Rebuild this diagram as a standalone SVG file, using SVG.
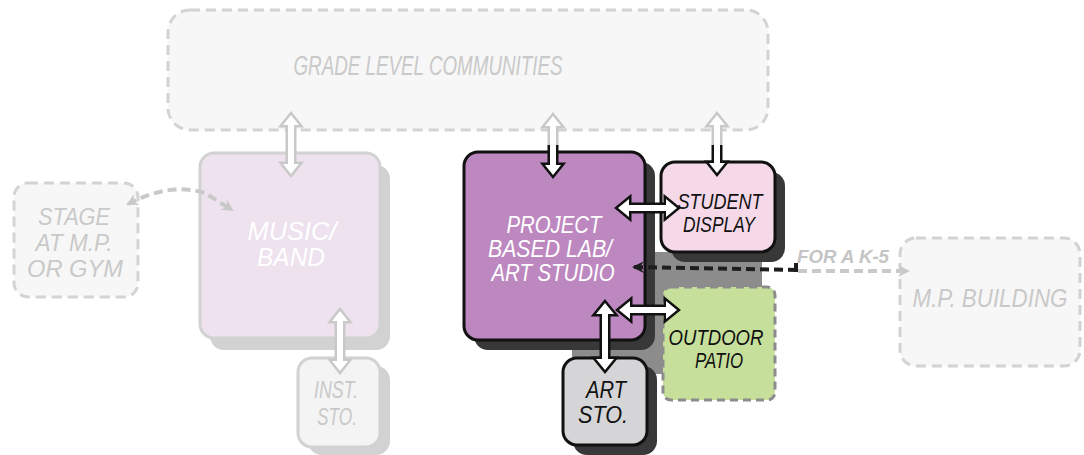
<svg xmlns="http://www.w3.org/2000/svg" width="1084" height="455" viewBox="0 0 1084 455">
<defs>
<style>
.ghost{fill:#f7f7f7;stroke:#d3d3d3;stroke-width:3;stroke-dasharray:10 6}
.gt{font-family:"Liberation Sans",Arial,sans-serif;font-style:italic;fill:#c9c9c9;text-anchor:middle}
.wt{font-family:"Liberation Sans",Arial,sans-serif;font-style:italic;fill:#ffffff;text-anchor:middle}
.bt{font-family:"Liberation Sans",Arial,sans-serif;font-style:italic;fill:#111111;text-anchor:middle}
.arw{fill:#ffffff;stroke:#111111;stroke-width:5;paint-order:stroke;stroke-linejoin:miter}
.arwg{fill:#ffffff;stroke:#c9c9c9;stroke-width:5;paint-order:stroke;stroke-linejoin:miter}
.dashb{fill:none;stroke:#1e1e1e;stroke-width:4;stroke-dasharray:9 5}
.dashg{fill:none;stroke:#c9c9c9;stroke-width:4;stroke-dasharray:9 5}
</style>
<marker id="hb" viewBox="0 0 12 12" refX="10" refY="6" markerWidth="12" markerHeight="12" markerUnits="userSpaceOnUse" orient="auto-start-reverse">
<path d="M0,0 L12,6 L0,12 L4,6 Z" fill="#1e1e1e"/>
</marker>
<marker id="hg" viewBox="0 0 12 12" refX="10" refY="6" markerWidth="12" markerHeight="12" markerUnits="userSpaceOnUse" orient="auto-start-reverse">
<path d="M0,0 L12,6 L0,12 L4,6 Z" fill="#c9c9c9"/>
</marker>
<clipPath id="above"><rect x="0" y="0" width="1084" height="145"/></clipPath>
<clipPath id="below"><rect x="0" y="145" width="1084" height="310"/></clipPath>
</defs>

<rect width="1084" height="455" fill="#ffffff"/>

<g id="grade-level-communities">
<rect class="ghost" x="168" y="10" width="600" height="120" rx="22"/>
<text class="gt" x="428" y="75" font-size="27" textLength="269" lengthAdjust="spacingAndGlyphs">GRADE LEVEL COMMUNITIES</text>
</g>

<g id="stage">
<rect class="ghost" x="14" y="183" width="124" height="114" rx="14"/>
<text class="gt" x="74" y="225" font-size="23" textLength="72" lengthAdjust="spacingAndGlyphs">STAGE</text>
<text class="gt" x="74" y="251" font-size="23" textLength="77" lengthAdjust="spacingAndGlyphs">AT M.P.</text>
<text class="gt" x="75" y="277" font-size="23" textLength="96" lengthAdjust="spacingAndGlyphs">OR GYM</text>
</g>

<g id="mp-building">
<rect class="ghost" x="900" y="238" width="180" height="128" rx="16"/>
<text class="gt" x="990" y="307" font-size="25" textLength="155" lengthAdjust="spacingAndGlyphs">M.P. BUILDING</text>
</g>

<g id="shared-shadow">
<path d="M645,252 H762 V290 H668 V374 H572 V345 H645 Z" fill="#8c8c8c"/>
</g>

<g id="music-band">
<rect x="210" y="165" width="180" height="185" rx="14" fill="#d2d2d2"/>
<rect x="200" y="153" width="180" height="185" rx="14" fill="#eee2ef" stroke="#d2d2d2" stroke-width="3"/>
<text class="wt" x="292" y="240" font-size="25" textLength="89" lengthAdjust="spacingAndGlyphs">MUSIC/</text>
<text class="wt" x="291" y="266" font-size="25" textLength="68" lengthAdjust="spacingAndGlyphs">BAND</text>
</g>

<g id="inst-sto">
<rect x="308" y="366" width="82" height="89" rx="14" fill="#d2d2d2"/>
<rect x="298" y="358" width="82" height="89" rx="14" fill="#f4f4f4" stroke="#d2d2d2" stroke-width="3"/>
<text class="gt" x="336" y="398" font-size="24" textLength="44" lengthAdjust="spacingAndGlyphs">INST.</text>
<text class="gt" x="337" y="425" font-size="24" textLength="40" lengthAdjust="spacingAndGlyphs">STO.</text>
</g>

<g id="project-lab">
<rect x="474" y="162" width="181" height="188" rx="14" fill="#383838"/>
<rect x="464" y="152" width="181" height="188" rx="14" fill="#bd88bf" stroke="#111111" stroke-width="3"/>
<text class="wt" x="554" y="233" font-size="23" textLength="95" lengthAdjust="spacingAndGlyphs">PROJECT</text>
<text class="wt" x="550" y="257" font-size="23" textLength="124" lengthAdjust="spacingAndGlyphs">BASED LAB/</text>
<text class="wt" x="553" y="281" font-size="23" textLength="123" lengthAdjust="spacingAndGlyphs">ART STUDIO</text>
</g>

<g id="student-display">
<rect x="671" y="172" width="114" height="90" rx="14" fill="#383838"/>
<rect x="661" y="162" width="114" height="90" rx="14" fill="#f5d9e8" stroke="#111111" stroke-width="3"/>
<text class="bt" x="720" y="209" font-size="22" textLength="85" lengthAdjust="spacingAndGlyphs">STUDENT</text>
<text class="bt" x="719" y="232" font-size="22" textLength="72" lengthAdjust="spacingAndGlyphs">DISPLAY</text>
</g>

<g id="outdoor-patio">
<rect x="663" y="287" width="112" height="113" rx="8" fill="#c6df9b" stroke="#8c8c8c" stroke-width="3" stroke-dasharray="8 5"/>
<text class="bt" x="716" y="345" font-size="22" textLength="95" lengthAdjust="spacingAndGlyphs">OUTDOOR</text>
<text class="bt" x="719" y="368" font-size="22" textLength="48" lengthAdjust="spacingAndGlyphs">PATIO</text>
</g>

<g id="art-sto">
<rect x="573" y="366" width="84" height="89" rx="14" fill="#383838"/>
<rect x="563" y="358" width="84" height="87" rx="14" fill="#d5d5d7" stroke="#111111" stroke-width="3"/>
<text class="bt" x="606" y="398" font-size="23" textLength="40" lengthAdjust="spacingAndGlyphs">ART</text>
<text class="bt" x="603" y="423" font-size="23" textLength="50" lengthAdjust="spacingAndGlyphs">STO.</text>
</g>

<g id="connectors">
<path class="arwg" d="M291,115 L299,125 L294,125 L294,164 L299,164 L291,174 L283,164 L288,164 L288,125 L283,125 Z"/>
<g clip-path="url(#above)">
<path class="arwg" d="M553,116 L561,126 L556,126 L556,165 L561,165 L553,175 L545,165 L550,165 L550,126 L545,126 Z"/>
</g>
<g clip-path="url(#below)">
<path class="arw" d="M553,116 L561,126 L556,126 L556,165 L561,165 L553,175 L545,165 L550,165 L550,126 L545,126 Z"/>
</g>
<g clip-path="url(#above)">
<path class="arwg" d="M717,115 L725,125 L720,125 L720,163 L725,163 L717,173 L709,163 L714,163 L714,125 L709,125 Z"/>
</g>
<g clip-path="url(#below)">
<path class="arw" d="M717,115 L725,125 L720,125 L720,163 L725,163 L717,173 L709,163 L714,163 L714,125 L709,125 Z"/>
</g>
<path class="arwg" d="M340,311 L348,321 L343,321 L343,361 L348,361 L340,371 L332,361 L337,361 L337,321 L332,321 Z"/>
<path class="arw" d="M618,208 L629,199 L629,205 L666,205 L666,199 L677,208 L666,217 L666,211 L629,211 L629,217 Z"/>
<path class="arw" d="M619,310 L630,301 L630,307 L666,307 L666,301 L677,310 L666,319 L666,313 L630,313 L630,319 Z"/>
<path class="arw" d="M605,303 L614,314 L608,314 L608,359 L614,359 L605,370 L596,359 L602,359 L602,314 L596,314 Z"/>
<path class="dashb" d="M797,270 L634,267" marker-end="url(#hb)"/>
<path class="dashb" d="M796,272 L796,262"/>
<path class="dashg" d="M798,271 L908,271" marker-end="url(#hg)"/>
<text x="843" y="263" font-family="'Liberation Sans',Arial,sans-serif" font-style="italic" font-weight="bold" font-size="18" fill="#c4c4c4" text-anchor="middle" textLength="92" lengthAdjust="spacingAndGlyphs">FOR A K-5</text>
<path class="dashg" d="M128,204 Q170,182 205,193 L232,210" marker-start="url(#hg)" marker-end="url(#hg)"/>
</g>
</svg>
